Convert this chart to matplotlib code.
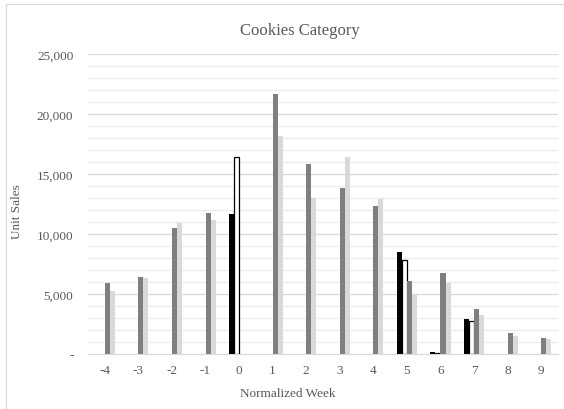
import numpy as np
import matplotlib
matplotlib.use("Agg")
import matplotlib.pyplot as plt
from matplotlib.ticker import FuncFormatter, MultipleLocator
from matplotlib.patches import Rectangle

weeks = ["-4", "-3", "-2", "-1", "0", "1", "2", "3", "4", "5", "6", "7", "8", "9"]
nan = np.nan

# four series per week; nan where a series has no bar
promo_a = [nan, nan, nan, nan, 11640, nan, nan, nan, nan, 8500, 150, 2890, nan, nan]
promo_b = [nan, nan, nan, nan, 16440, nan, nan, nan, nan, 7830, 120, 2750, nan, nan]
total_a = [5920, 6390, 10500, 11780, nan, 21640, 15830, 13860, 12310, 6060, 6720, 3750, 1720, 1310]
total_b = [5250, 6300, 10920, 11170, nan, 18190, 12970, 16420, 12940, 4940, 5940, 3250, 1530, 1250]

text_color = "#595959"
plt.rcParams["font.family"] = ["Liberation Serif", "DejaVu Serif"]

fig = plt.figure(figsize=(5.64, 4.10), dpi=100)
ax = fig.add_axes([88 / 564, 55 / 410, 470 / 564, 300 / 410])

x = np.arange(len(weeks))
w = 0.15
styles = [
    (promo_a, "#000000", "#000000"),
    (promo_b, "#ffffff", "#000000"),
    (total_a, "#7f7f7f", "#7f7f7f"),
    (total_b, "#d9d9d9", "#d9d9d9"),
]
for i, (vals, fc, ec) in enumerate(styles):
    ax.bar(x + (i - 1.5) * w, vals, width=w, color=fc, edgecolor=ec,
           linewidth=0.9 if fc == "#ffffff" else 0, zorder=3)

ax.set_xlim(-0.5, len(weeks) - 0.5)
ax.set_ylim(0, 25000)
ax.set_xticks(x)
ax.set_xticklabels(weeks)
ax.yaxis.set_major_locator(MultipleLocator(5000))
ax.yaxis.set_minor_locator(MultipleLocator(1000))
ax.yaxis.set_major_formatter(FuncFormatter(lambda v, p: "-" if v == 0 else f"{v:,.0f}"))

ax.grid(axis="y", which="major", color="#d9d9d9", linewidth=0.9, zorder=0)
ax.grid(axis="y", which="minor", color="#ebebeb", linewidth=0.9, zorder=0)
for side in ["top", "right", "left"]:
    ax.spines[side].set_visible(False)
ax.spines["bottom"].set_color("#d9d9d9")
ax.spines["bottom"].set_zorder(4)

ax.tick_params(axis="both", which="both", length=0, colors=text_color, labelsize=9.5)
ax.tick_params(axis="y", pad=10.5)
ax.tick_params(axis="x", pad=7.5)

fig.text(300 / 564, 1 - 31 / 410, "Cookies Category", fontsize=12,
         color=text_color, ha="center", va="center")
ax.set_xlabel("Normalized Week", fontsize=9.5, color=text_color, labelpad=8)
ax.xaxis.set_label_coords((288 - 88) / 470, -(394 - 355) / 300)
ax.set_ylabel("Unit Sales", fontsize=9.5, color=text_color)
ax.yaxis.set_label_coords(-(88 - 17) / 470, (355 - 212) / 300)
ax.xaxis.label.set_va("center")
ax.yaxis.label.set_va("center")

# chart area border
fig.patches.append(Rectangle((6 / 564, -0.1), 1.2, 1.1 - 5 / 410,
                             transform=fig.transFigure, fill=False,
                             edgecolor="#d9d9d9", linewidth=0.9))

fig.savefig("out.png", dpi=100)
